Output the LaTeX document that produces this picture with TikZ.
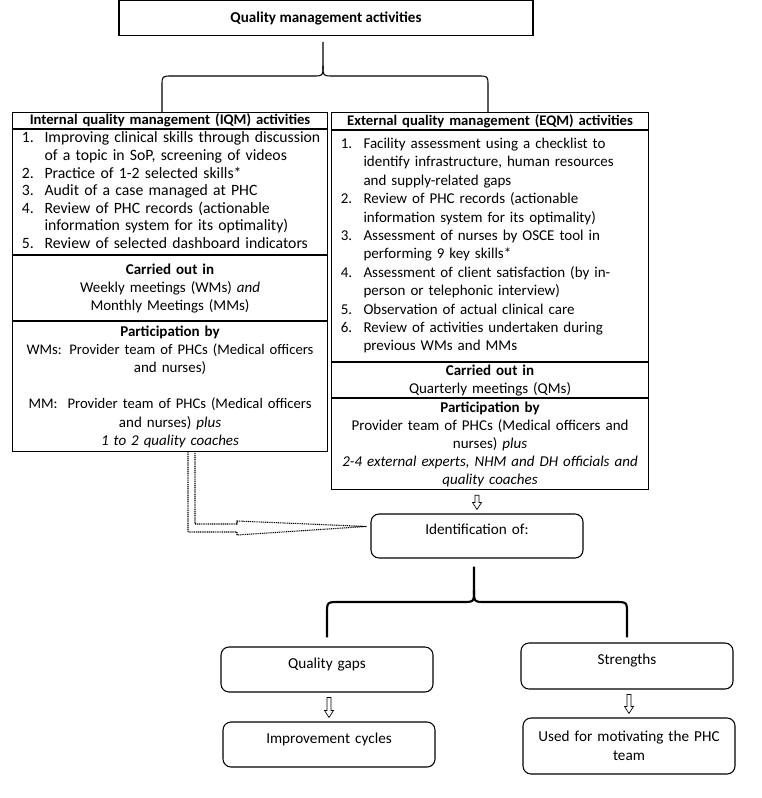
\documentclass[tikz,border=0pt]{standalone}
\usepackage{fontspec}
\setmainfont{Carlito}
\usetikzlibrary{calc,positioning}

\tikzset{
  head/.style={draw, line width=0.8pt, anchor=north west, inner xsep=2pt, inner ysep=0pt, align=center, font=\bfseries\fontsize{11}{12}\selectfont},
  part/.style={draw, line width=0.8pt, anchor=north west, inner xsep=2pt, inner ysep=0pt, align=center, font=\fontsize{11.25}{13.6}\selectfont},
  lst/.style={part, align=left},
  rbox/.style={draw, line width=0.8pt, rounded corners=6pt, minimum width=159pt, text width=150pt, align=center, font=\fontsize{11.4}{14}\selectfont},
  brace/.style={line width=0.8pt},
  hollow/.style={line width=0.5pt, fill=white},
}

\newcommand{\hollowdown}[2]{%
  \coordinate (ha) at ($(#2.north |- #1.south)+(0,5)$);
  \coordinate (hb) at ($(#2.north)+(0,-4)$);
  \draw[hollow] ($(ha)+(-2,0)$) -- ($(hb)+(-2,-7)$) -- ($(hb)+(-4.5,-7)$) -- (hb)
    -- ($(hb)+(4.5,-7)$) -- ($(hb)+(2,-7)$) -- ($(ha)+(2,0)$) -- cycle;}

\begin{document}
\begin{tikzpicture}[x=0.75pt,y=-0.75pt]
\useasboundingbox (0,0) rectangle (761,798);
%
\node[draw, line width=0.8pt, minimum width=310.5pt, minimum height=26pt, font=\bfseries\fontsize{11.3}{12}\selectfont] (qma) at (326,18) {Quality management activities};
%
% internal
\node[head, text width=232.25pt, minimum height=12pt] (iqmHead) at (12,112) {Internal quality management (IQM) activities};
\node[lst, text width=232.25pt, minimum height=93.75pt, font=\fontsize{11.8}{13.2}\selectfont] (iqmList) at (iqmHead.south west) {%
\begin{tabular}{@{\hspace{5pt}}p{17pt}@{}l@{}}
1. & Improving clinical skills through discussion \\
   & of a topic in SoP, screening of videos \\
2. & Practice of 1-2 selected skills* \\
3. & Audit of a case managed at PHC \\
4. & Review of PHC records (actionable \\
   & information system for its optimality) \\
5. & Review of selected dashboard indicators
\end{tabular}};
\node[part, text width=232.25pt, minimum height=48.75pt] (iqmCarried) at (iqmList.south west) {\textbf{Carried out in}\\ Weekly meetings (WMs) \textit{and}\\ Monthly Meetings (MMs)};
\node[part, text width=232.25pt, minimum height=97.5pt] (iqmPart) at (iqmCarried.south west) {\textbf{Participation by}\\ {\fontsize{11}{13.6}\selectfont WMs: Provider team of PHCs (Medical officers}\\ and nurses)\\[13.6pt] {\fontsize{11}{13.6}\selectfont MM:~~Provider team of PHCs (Medical officers}\\ and nurses) \textit{plus}\\ \textit{1 to 2 quality coaches}};
%
% external
\node[head, text width=233.75pt, minimum height=12.75pt] (eqmHead) at (331,112) {External quality management (EQM) activities};
\node[lst, text width=233.75pt, minimum height=173.25pt, font=\fontsize{11.25}{13.8}\selectfont] (eqmList) at (eqmHead.south west) {%
\begin{tabular}{@{\hspace{5pt}}p{17pt}@{}l@{}}
1. & Facility assessment using a checklist to \\
   & identify infrastructure, human resources \\
   & and supply-related gaps \\
2. & Review of PHC records (actionable \\
   & information system for its optimality) \\
3. & Assessment of nurses by OSCE tool in \\
   & performing 9 key skills* \\
4. & Assessment of client satisfaction (by in- \\
   & person or telephonic interview) \\
5. & Observation of actual clinical care \\
6. & Review of activities undertaken during \\
   & previous WMs and MMs
\end{tabular}};
\node[part, text width=233.75pt, minimum height=26.25pt] (eqmCarried) at (eqmList.south west) {\textbf{Carried out in}\\ Quarterly meetings (QMs)};
\node[part, text width=233.75pt, minimum height=68.25pt, font=\fontsize{11.25}{13.5}\selectfont] (eqmPart) at (eqmCarried.south west) {\textbf{Participation by}\\ Provider team of PHCs (Medical officers and\\ nurses) \textit{plus}\\ \textit{2-4 external experts, NHM and DH officials and}\\ \textit{quality coaches}};
%
% lower boxes
\node[rbox, minimum height=33pt] (ident) at (477,536) {Identification of:\\[-4pt]\mbox{}};
\node[rbox, minimum height=33.75pt] (gaps) at (327,669.5) {Quality gaps\\[-4pt]\mbox{}};
\node[rbox, minimum height=33.75pt] (improve) at (329,744.5) {Improvement cycles\\[-4pt]\mbox{}};
\node[rbox, minimum height=34.5pt] (strengths) at (627,666) {Strengths\\[-4pt]\mbox{}};
\node[rbox, minimum height=42pt] (used) at (629,746) {Used for motivating the PHC\\ team};
%
% braces
\coordinate (bt) at ($(qma.south)+(-3,6)$);
\draw[brace] (bt) -- (323,66) .. controls (323,76) .. (313,76) -- (172,76) .. controls (162,76) .. (162,86) -- (iqmHead.north -| 162,0);
\draw[brace] (323,66) .. controls (323,76) .. (333,76) -- (478,76) .. controls (488,76) .. (488,86) -- (eqmHead.north -| 488,0);
%
\coordinate (bb) at ($(ident.south)+(-3,8)$);
\draw[brace, line width=1.6pt] (bb) -- (474,590) .. controls (474,602) .. (462,602) -- (339,602) .. controls (327,602) .. (327,614) -- ($(gaps.north)+(0,-9)$);
\draw[brace, line width=1.6pt] (474,590) .. controls (474,602) .. (486,602) -- (615,602) .. controls (627,602) .. (627,614) -- ($(strengths.north)+(0,-5)$);
%
% arrows
\hollowdown{eqmPart}{ident}
\hollowdown{gaps}{improve}
\hollowdown{strengths}{used}
%
\coordinate (tip) at ($(ident.north west)+(-4,13)$);
\draw[line width=0.8pt, dash pattern=on 0.8pt off 0.6pt] (iqmPart.south -| 188,0) -- (188,532) -- (237,532) -- (237,535) -- (tip)
  -- (237,521) -- (237,524) -- (195,524) -- (iqmPart.south -| 195,0);
\end{tikzpicture}
\end{document}
